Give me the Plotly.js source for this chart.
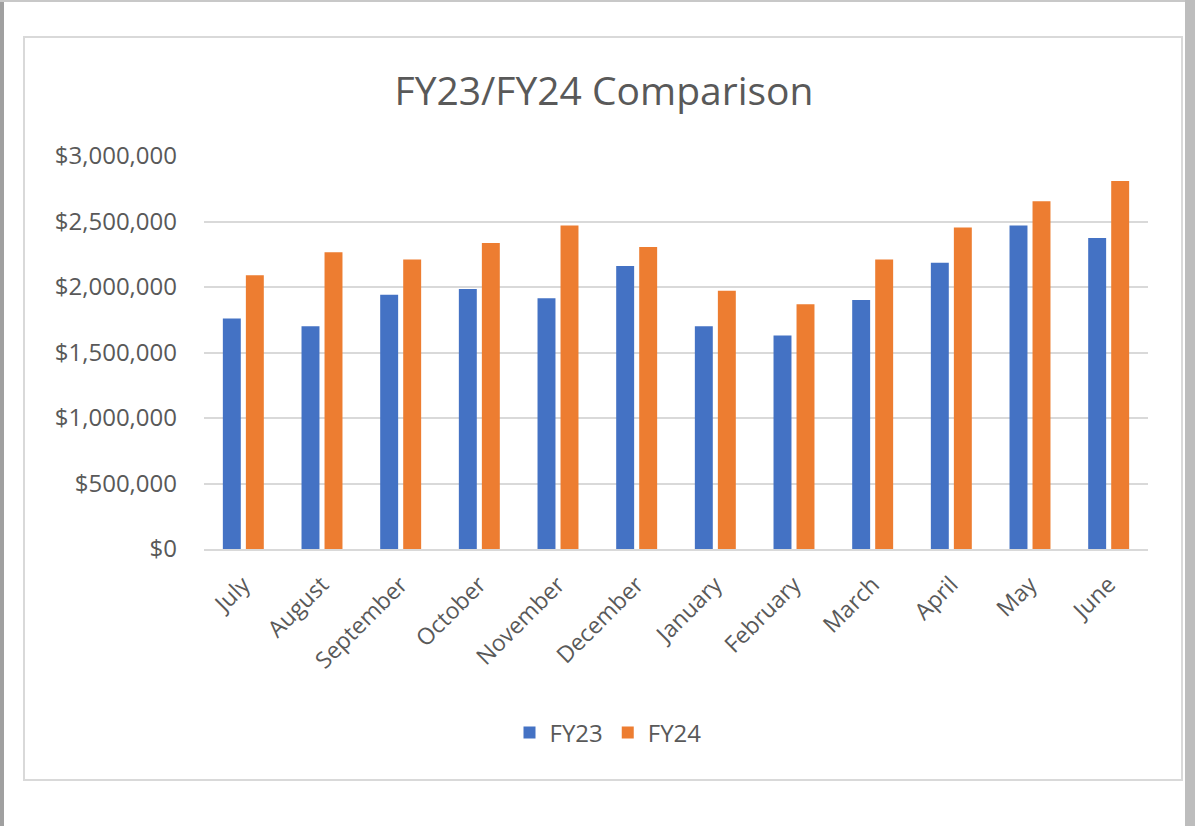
<!DOCTYPE html>
<html>
<head>
<meta charset="utf-8">
<script src="https://cdn.plot.ly/plotly-3.0.1.min.js"></script>
<style>
  html, body { margin: 0; padding: 0; background: #ffffff; }
  #chart { width: 1195px; height: 826px; }
</style>
</head>
<body>
<div id="chart"></div>
<script>
const months = ["July", "August", "September", "October", "November", "December",
                "January", "February", "March", "April", "May", "June"];
const fy23 = [1760000, 1700000, 1940000, 1985000, 1915000, 2160000,
              1700000, 1630000, 1900000, 2185000, 2470000, 2375000];
const fy24 = [2090000, 2265000, 2210000, 2335000, 2470000, 2305000,
              1972000, 1868000, 2210000, 2455000, 2655000, 2810000];
const seriesNames = ["FY23", "FY24"];
const chartTitle = "FY23/FY24 Comparison";

const W = 1195, H = 826;
const L = 204, R = 1148, T = 156, B = 549;
const px = x => (x - L) / (R - L);
const py = y => (B - y) / (B - T);

const textColor = "#595959";
const font = "Open Sans, Noto Sans, sans-serif";

const data = [
  { type: "bar", name: seriesNames[0], x: months, y: fy23,
    marker: { color: "#4472C4" }, hoverinfo: "x+y+name" },
  { type: "bar", name: seriesNames[1], x: months, y: fy24,
    marker: { color: "#ED7D31" }, hoverinfo: "x+y+name" }
];

const layout = {
  width: W, height: H,
  margin: { l: L, r: W - R, t: T, b: H - B, pad: 0 },
  paper_bgcolor: "#ffffff",
  plot_bgcolor: "#ffffff",
  font: { family: font, color: textColor, size: 24 },
  title: {
    text: chartTitle,
    font: { family: font, size: 39, color: textColor },
    x: 604 / W, xref: "container", xanchor: "center",
    y: 1 - 91 / H, yref: "container", yanchor: "middle"
  },
  barmode: "group",
  bargap: 0.415,
  bargroupgap: 0.22,
  showlegend: true,
  legend: {
    orientation: "h",
    x: px(608), xanchor: "center",
    y: py(733), yanchor: "middle",
    font: { family: font, size: 24, color: textColor },
    itemwidth: 30,
    traceorder: "normal"
  },
  xaxis: {
    type: "category",
    tickangle: -45,
    ticks: "",
    showgrid: false,
    showline: true,
    linecolor: "#D9D9D9",
    linewidth: 2,
    tickfont: { family: font, size: 23, color: textColor },
    ticklabelstandoff: 11,
    fixedrange: true
  },
  yaxis: {
    range: [0, 3000000],
    dtick: 500000,
    tick0: 0,
    tickprefix: "$",
    tickformat: ",d",
    ticks: "",
    showgrid: true,
    gridcolor: "#D9D9D9",
    gridwidth: 2,
    zeroline: false,
    showline: false,
    tickfont: { family: font, size: 24, color: textColor },
    ticklabelstandoff: 26,
    fixedrange: true
  },
  shapes: [
    // inner chart-area border
    { type: "rect", xref: "paper", yref: "paper",
      x0: px(24), x1: px(1182), y0: py(37), y1: py(780),
      line: { color: "#D9D9D9", width: 2 }, fillcolor: "rgba(0,0,0,0)", layer: "below" },
    // outer window edges
    { type: "rect", xref: "paper", yref: "paper",
      x0: px(0), x1: px(4), y0: py(0), y1: py(826),
      line: { width: 0 }, fillcolor: "#A0A0A0", layer: "below" },
    { type: "rect", xref: "paper", yref: "paper",
      x0: px(0), x1: px(1195), y0: py(0), y1: py(2),
      line: { width: 0 }, fillcolor: "#C8C8C8", layer: "below" },
    { type: "rect", xref: "paper", yref: "paper",
      x0: px(1185), x1: px(1195), y0: py(0), y1: py(826),
      line: { width: 0 }, fillcolor: "#BDBDBD", layer: "below" }
  ]
};

Plotly.newPlot("chart", data, layout, { displayModeBar: false, staticPlot: false });
</script>
</body>
</html>
